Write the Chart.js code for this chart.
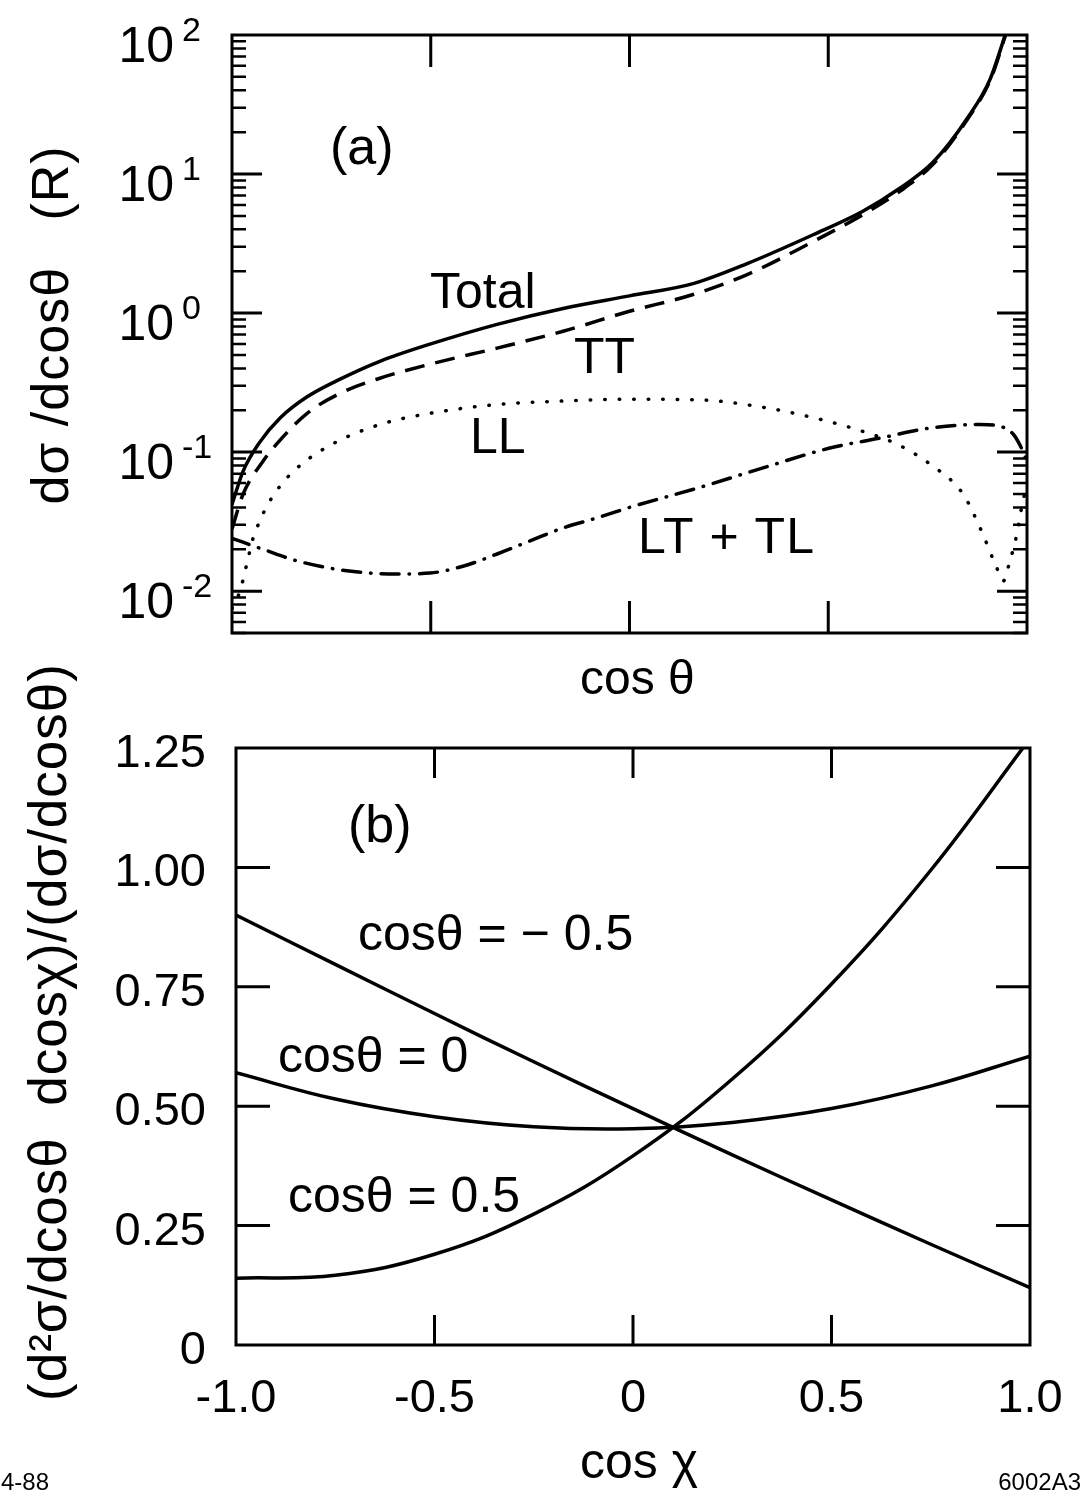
<!DOCTYPE html>
<html>
<head>
<meta charset="utf-8">
<script src="https://cdn.jsdelivr.net/npm/chart.js@4.4.1/dist/chart.umd.min.js"></script>
<style>
html, body { margin: 0; padding: 0; background: #fff; }
#wrap { position: relative; width: 1083px; height: 1495px; }
canvas { position: absolute; left: 0; }
#chartA { top: 0; }
#chartB { top: 640px; }
</style>
</head>
<body>
<div id="wrap">
<canvas id="chartA" width="1083" height="720"></canvas>
<canvas id="chartB" width="1083" height="855"></canvas>
</div>
<script>
const FONT = '"Liberation Sans", Arial, Helvetica, sans-serif';

// ---- panel (a): d sigma / d cos theta, log scale ----
const totalX = [-1, -0.972, -0.93, -0.879, -0.811, -0.728, -0.628, -0.5, -0.333, -0.167, 0, 0.16, 0.296, 0.462, 0.587, 0.68, 0.764, 0.849, 0.907, 0.945, 0.97];
const totalY = [0.042, 0.073, 0.118, 0.176, 0.25, 0.335, 0.45, 0.60, 0.83, 1.08, 1.33, 1.63, 2.27, 3.66, 5.4, 7.9, 12.2, 25, 48, 100, 170];

const ttX = [-1, -0.972, -0.922, -0.879, -0.811, -0.728, -0.628, -0.5, -0.333, -0.167, 0, 0.16, 0.296, 0.462, 0.587, 0.68, 0.764, 0.849, 0.907, 0.945, 0.97];
const ttY = [0.028, 0.05, 0.086, 0.122, 0.19, 0.265, 0.34, 0.43, 0.56, 0.74, 1.03, 1.36, 1.89, 3.27, 5.1, 7.5, 11.8, 24.5, 47, 98, 165];

const llX = [-1, -0.98, -0.962, -0.947, -0.93, -0.912, -0.879, -0.836, -0.753, -0.628, -0.502, -0.333, -0.167, 0, 0.17, 0.336, 0.462, 0.587, 0.673, 0.756, 0.839, 0.882, 0.924, 0.94, 0.957, 0.975, 0.99, 1];
const llY = [0.0075, 0.01, 0.016, 0.024, 0.032, 0.041, 0.057, 0.077, 0.112, 0.158, 0.19, 0.22, 0.233, 0.24, 0.238, 0.21, 0.177, 0.141, 0.114, 0.082, 0.050, 0.0285, 0.0147, 0.0118, 0.0165, 0.026, 0.045, 0.055];

const ltX = [-1, -0.922, -0.836, -0.711, -0.585, -0.502, -0.419, -0.333, -0.25, -0.167, -0.082, 0, 0.17, 0.336, 0.504, 0.63, 0.756, 0.882, 0.924, 0.965, 0.99, 1];
const ltY = [0.024, 0.020, 0.0165, 0.014, 0.0133, 0.0135, 0.0151, 0.0185, 0.023, 0.0285, 0.0336, 0.040, 0.055, 0.077, 0.107, 0.126, 0.149, 0.158, 0.155, 0.135, 0.101, 0.085];

const logMajors = [0.01, 0.1, 1, 10];
const logLabels = [[100, '2'], [10, '1'], [1, '0'], [0.1, '-1'], [0.01, '-2']];

// ---- panel (b): normalised distribution in cos chi ----
const chiX = [-1, -0.75, -0.5, -0.25, 0, 0.25, 0.5, 0.75, 1];
const thetaMinusHalf = [0.90, 0.797, 0.694, 0.593, 0.495, 0.398, 0.304, 0.211, 0.12];
const thetaZero = [0.57, 0.515, 0.478, 0.457, 0.453, 0.466, 0.495, 0.542, 0.605];
const thetaPlusHalf = [0.14, 0.146, 0.19, 0.274, 0.396, 0.557, 0.756, 0.994, 1.27];

const pairs = (xs, ys) => xs.map((x, i) => ({ x: x, y: ys[i] }));

const lineBase = {
    borderColor: '#000',
    borderWidth: 3.5,
    pointRadius: 0,
    fill: false,
    cubicInterpolationMode: 'monotone',
    clip: 0
};
const smoothBase = Object.assign({}, lineBase, { cubicInterpolationMode: 'default', tension: 0.4 });

function text(ctx, str, x, y, size, align, spacing) {
    ctx.font = size + 'px ' + FONT;
    ctx.textAlign = align || 'left';
    ctx.textBaseline = 'alphabetic';
    ctx.letterSpacing = (spacing || 0) + 'px';
    ctx.fillText(str, x, y);
    ctx.letterSpacing = '0px';
}

function drawBox(chart, xTicks, xLen) {
    const ctx = chart.ctx, a = chart.chartArea, xs = chart.scales.x;
    ctx.save();
    ctx.strokeStyle = '#000';
    ctx.lineWidth = 3;
    ctx.strokeRect(a.left, a.top, a.right - a.left, a.bottom - a.top);
    ctx.beginPath();
    xTicks.forEach(v => {
        const px = xs.getPixelForValue(v);
        ctx.moveTo(px, a.top); ctx.lineTo(px, a.top + xLen);
        ctx.moveTo(px, a.bottom); ctx.lineTo(px, a.bottom - xLen);
    });
    ctx.stroke();
    ctx.restore();
}

function yTicks(chart, values, len, width) {
    const ctx = chart.ctx, a = chart.chartArea, ys = chart.scales.y;
    ctx.save();
    ctx.strokeStyle = '#000';
    ctx.lineWidth = width;
    ctx.beginPath();
    values.forEach(v => {
        const py = ys.getPixelForValue(v);
        ctx.moveTo(a.left, py); ctx.lineTo(a.left + len, py);
        ctx.moveTo(a.right, py); ctx.lineTo(a.right - len, py);
    });
    ctx.stroke();
    ctx.restore();
}

const decorA = {
    id: 'decorA',
    afterDatasetsDraw(chart) {
        const ctx = chart.ctx, ys = chart.scales.y;
        drawBox(chart, [-0.5, 0, 0.5], 32);
        const minors = [];
        [0.001, 0.01, 0.1, 1, 10].forEach(d => {
            for (let m = 2; m <= 9; m++) {
                const v = m * d;
                if (v >= ys.min && v <= ys.max) minors.push(v);
            }
        });
        yTicks(chart, logMajors, 30, 3);
        yTicks(chart, minors, 14, 2.5);

        ctx.save();
        ctx.fillStyle = '#000';
        logLabels.forEach(([v, e]) => {
            const py = ys.getPixelForValue(v);
            text(ctx, '10', 174, py + 27, 50, 'right');
            text(ctx, e, 182, py + 6, 34);
        });
        text(ctx, '(a)', 330, 164, 52);
        text(ctx, 'Total', 430, 308, 50);
        text(ctx, 'TT', 574, 373, 50);
        text(ctx, 'LL', 470, 453, 50);
        text(ctx, 'LT + TL', 638, 553, 50, 'left', 1);
        text(ctx, 'cos \u03b8', 580, 694, 48);
        ctx.translate(68, 325);
        ctx.rotate(-Math.PI / 2);
        text(ctx, 'd\u03c3 /dcos\u03b8   (R)', 0, 0, 52, 'center', 1);
        ctx.restore();
    }
};

const decorB = {
    id: 'decorB',
    afterDatasetsDraw(chart) {
        const ctx = chart.ctx;
        drawBox(chart, [-0.5, 0, 0.5], 30);
        yTicks(chart, [0.25, 0.5, 0.75, 1.0], 34, 3);
        ctx.save();
        ctx.fillStyle = '#000';
        text(ctx, '(b)', 348, 202, 52);
        text(ctx, 'cos\u03b8 = \u2212 0.5', 358, 310, 50);
        text(ctx, 'cos\u03b8 = 0', 278, 432, 50);
        text(ctx, 'cos\u03b8 = 0.5', 288, 572, 50);
        text(ctx, 'cos \u03c7', 580, 838, 50);
        text(ctx, '4-88', 1, 850, 24);
        text(ctx, '6002A3', 1081, 850, 24, 'right');
        ctx.translate(66, 392);
        ctx.rotate(-Math.PI / 2);
        text(ctx, '(d\u00b2\u03c3/dcos\u03b8  dcos\u03c7)/(d\u03c3/dcos\u03b8)', 0, 0, 53, 'center', 1);
        ctx.restore();
    }
};

const hiddenGrid = { display: false, drawTicks: false };

function fixWidth(w) {
    return s => { s.width = w; s.paddingTop = 0; s.paddingBottom = 0; };
}
function fixHeight(h) {
    return s => { s.height = h; s.paddingLeft = 0; s.paddingRight = 0; };
}

const configA = {
    type: 'line',
    data: {
        datasets: [
            Object.assign({ label: 'Total', data: pairs(totalX, totalY) }, lineBase),
            Object.assign({ label: 'TT', data: pairs(ttX, ttY), borderDash: [20, 11] }, lineBase),
            Object.assign({ label: 'LL', data: pairs(llX, llY), borderDash: [0.5, 14], borderCapStyle: 'round', borderWidth: 5.5 }, lineBase),
            Object.assign({ label: 'LT + TL', data: pairs(ltX, ltY), borderDash: [18, 10, 0.5, 10], borderCapStyle: 'round' }, lineBase)
        ]
    },
    options: {
        responsive: false,
        animation: false,
        layout: { padding: { top: 35, right: 56, left: 0, bottom: 0 } },
        plugins: { legend: { display: false }, tooltip: { enabled: false } },
        scales: {
            x: {
                type: 'linear', min: -1, max: 1,
                ticks: { display: false }, grid: hiddenGrid, border: { display: false },
                afterFit: fixHeight(87)
            },
            y: {
                type: 'logarithmic', min: 0.005, max: 100,
                ticks: { display: false }, grid: hiddenGrid, border: { display: false },
                afterFit: fixWidth(232)
            }
        }
    },
    plugins: [decorA]
};

const configB = {
    type: 'line',
    data: {
        datasets: [
            Object.assign({ label: 'cos\u03b8 = \u22120.5', data: pairs(chiX, thetaMinusHalf) }, smoothBase),
            Object.assign({ label: 'cos\u03b8 = 0', data: pairs(chiX, thetaZero) }, smoothBase),
            Object.assign({ label: 'cos\u03b8 = 0.5', data: pairs(chiX, thetaPlusHalf) }, smoothBase)
        ]
    },
    options: {
        responsive: false,
        animation: false,
        layout: { padding: { top: 108, right: 53, left: 0, bottom: 0 } },
        plugins: { legend: { display: false }, tooltip: { enabled: false } },
        scales: {
            x: {
                type: 'linear', min: -1, max: 1,
                ticks: {
                    stepSize: 0.5, padding: 26, autoSkip: false, maxRotation: 0,
                    color: '#000', font: { family: FONT, size: 47 },
                    callback: v => (v === 0 ? '0' : v.toFixed(1))
                },
                grid: hiddenGrid, border: { display: false },
                afterFit: fixHeight(150)
            },
            y: {
                type: 'linear', min: 0, max: 1.25,
                ticks: {
                    stepSize: 0.25, padding: 30, labelOffset: 6,
                    color: '#000', font: { family: FONT, size: 47 },
                    callback: v => (Math.abs(v) < 1e-9 ? '0' : v.toFixed(2))
                },
                grid: hiddenGrid, border: { display: false },
                afterFit: fixWidth(236)
            }
        }
    },
    plugins: [decorB]
};

window.addEventListener('load', function () {
    new Chart(document.getElementById('chartA').getContext('2d'), configA);
    new Chart(document.getElementById('chartB').getContext('2d'), configB);
});
</script>
</body>
</html>
